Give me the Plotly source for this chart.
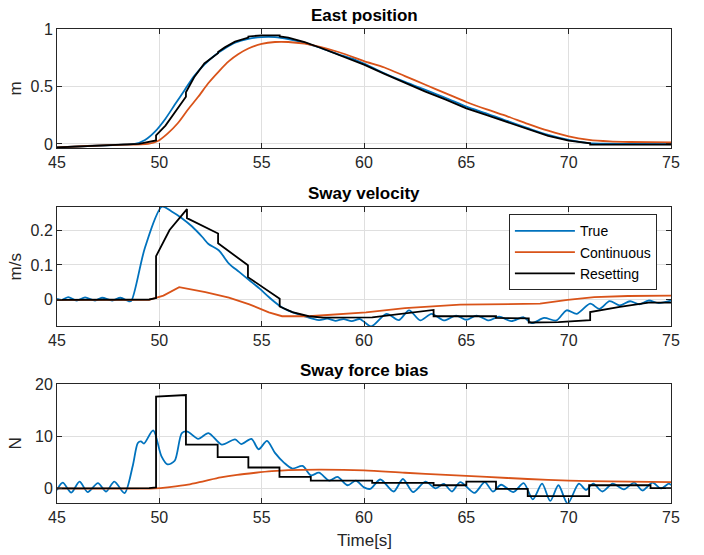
import plotly.graph_objects as go

# ---------------- data ----------------
# East position
pos_true_t = [45, 46.5, 48, 48.8, 49.3, 49.8, 50.3, 50.75, 51.24, 51.7, 52.2, 52.7, 53.2, 53.7, 54.35, 55.0, 55.65,
              56.3, 57.1, 57.9, 58.75, 59.6, 60, 61, 62, 63, 64, 65, 66, 67, 68, 69, 70, 71, 72, 73, 75]
pos_true = [-0.03, -0.018, -0.008, 0.0, 0.035, 0.11, 0.22, 0.34, 0.47, 0.59, 0.69, 0.77, 0.83, 0.88, 0.915, 0.93, 0.93,
            0.913, 0.88, 0.834, 0.78, 0.73, 0.70, 0.615, 0.54, 0.47, 0.40, 0.325, 0.265, 0.20, 0.137, 0.078, 0.035,
            0.008, 0.002, 0.0, 0.0]

pos_cont_t = [45, 46.5, 48, 49.45, 49.93, 50.4, 50.9, 51.4, 51.9, 52.4, 52.9, 53.4, 53.85, 54.35, 55.0, 55.65, 56.3,
              57.1, 57.9, 58.75, 59.6, 60, 61, 62, 63, 64, 65, 66, 67, 68, 69, 70, 71, 72, 73, 75]
pos_cont = [-0.03, -0.018, -0.008, 0.0, 0.026, 0.09, 0.18, 0.30, 0.41, 0.53, 0.63, 0.72, 0.78, 0.83, 0.87, 0.887, 0.887,
            0.872, 0.843, 0.80, 0.747, 0.72, 0.665, 0.59, 0.515, 0.44, 0.365, 0.30, 0.24, 0.175, 0.115, 0.065, 0.035,
            0.022, 0.017, 0.013]

pos_reset_t = [45, 46.5, 48, 49, 49.84, 49.84, 50.3, 50.75, 51.3, 51.3, 51.7, 52.2, 52.87, 52.87, 53.2, 53.7, 54.35,
               54.35, 55.0, 55.88, 55.88, 56.3, 57.1, 57.9, 58.75, 59.6, 60, 61, 62, 63, 64, 65, 66, 67, 68, 69, 70,
               71.05, 71.05, 72, 75]
pos_reset = [-0.03, -0.018, -0.008, 0.0, 0.03, 0.075, 0.16, 0.27, 0.41, 0.45, 0.58, 0.70, 0.79, 0.80, 0.84, 0.89,
             0.925, 0.935, 0.945, 0.945, 0.935, 0.925, 0.885, 0.835, 0.775, 0.72, 0.69, 0.61, 0.53, 0.455, 0.385,
             0.31, 0.25, 0.19, 0.13, 0.07, 0.028, 0.005, -0.005, -0.005, -0.005]

# Sway velocity
vel_true_t = [45, 45.25, 45.55, 45.96, 46.37, 46.86, 47.2, 47.7, 48.1, 48.5, 48.63, 49.3, 50.13, 50.6, 51.1, 51.6,
              52.1, 52.4, 52.9, 53.4, 53.9, 54.4, 54.9, 55.35, 55.85, 56.3, 57.0, 57.8, 58.2, 58.6, 59.0, 59.4, 59.8,
              60.35, 61.1, 61.7, 62.2, 62.75, 63.3, 63.9, 64.5, 65.0, 65.5, 66.1, 66.6, 67.2, 67.8, 68.2, 68.8, 69.4,
              69.9, 70.4, 71.05, 71.5, 72.0, 72.5, 73.0, 73.45, 73.9, 74.4, 75]
vel_true = [0.003, 0.0, 0.008, -0.002, 0.007, -0.002, 0.006, -0.002, 0.006, -0.004, -0.003, 0.15, 0.267, 0.253, 0.234,
            0.21, 0.18, 0.16, 0.142, 0.104, 0.08, 0.056, 0.032, 0.008, -0.016, -0.031, -0.045, -0.058, -0.054, -0.06,
            -0.055, -0.061, -0.055, -0.076, -0.04, -0.058, -0.03, -0.059, -0.04, -0.059, -0.045, -0.057, -0.045,
            -0.059, -0.048, -0.061, -0.05, -0.067, -0.052, -0.059, -0.03, -0.04, -0.011, -0.026, -0.004, -0.016,
            -0.004, -0.013, -0.002, -0.009, -0.002]

vel_cont_t = [45, 49.5, 50.2, 50.97, 52.25, 53.4, 54.4, 55.35, 56.0, 56.65, 57.3, 60.1, 62, 64.7, 68.6, 69.95, 71.25,
              72.9, 75]
vel_cont = [0.0, 0.0, 0.012, 0.0365, 0.022, 0.006, -0.013, -0.036, -0.047, -0.048, -0.047, -0.036, -0.024, -0.014,
            -0.011, 0.0, 0.008, 0.011, 0.012]

vel_reset_t = [45, 49.5, 49.84, 49.84, 50.5, 51.35, 51.35, 52.87, 52.87, 54.33, 54.33, 55.88, 55.88, 56.5, 57.3, 58,
               60.4, 63.4, 63.4, 66.45, 66.45, 68.05, 68.05, 69.5, 71.05, 71.05, 72.5, 73.9, 75]
vel_reset = [0.0, 0.001, 0.005, 0.125, 0.2, 0.26, 0.234, 0.19, 0.162, 0.099, 0.065, 0.003, -0.019, -0.035, -0.047,
             -0.051, -0.05, -0.029, -0.047, -0.047, -0.052, -0.053, -0.065, -0.064, -0.058, -0.035, -0.02, -0.008,
             -0.008]

# Sway force bias
f_true_t = [45, 45.28, 45.7, 46.1, 46.5, 47.0, 47.4, 47.8, 48.3, 48.7, 48.95, 49.1, 49.25, 49.7, 50.1, 50.4, 50.75,
            51.1, 51.37, 51.9, 52.4, 53.05, 53.7, 54.0, 54.5, 54.85, 55.26, 55.65, 56.1, 56.5, 57.0, 57.4, 57.8, 58.3,
            58.7, 59.2, 59.6, 60.0, 60.3, 60.8, 61.45, 61.9, 62.4, 63.0, 63.5, 63.9, 64.3, 64.7, 65.4, 65.9, 66.3,
            66.7, 67.3, 67.8, 68.25, 68.7, 69.1, 69.5, 69.95, 70.5, 70.85, 71.2, 71.65, 72.15, 72.7, 73.2, 73.6,
            74.1, 74.5, 74.9, 75]
f_true = [-0.3, 1.1, -0.8, 1.3, -0.7, 1.0, -0.6, 1.3, -0.9, 4.3, 8.7, 9.0, 8.6, 11.1, 6.2, 4.6, 5.3, 10.6, 10.9,
          9.5, 10.6, 8.4, 9.4, 8.5, 9.5, 7.5, 9.1, 6.8, 4.9, 3.8, 4.3, 2.5, 3.0, 1.5, 2.2, 0.6, 1.5, 0.2, -0.1, 1.7,
          -0.6, 1.8, -0.7, 1.3, 0.0, 0.85, -0.6, 1.2, -0.85, 1.2, -0.6, 0.7, -0.7, 1.0, -2.1, 0.9, -2.4, 0.6, -2.9,
          0.9, -0.3, 0.9, -0.6, 0.9, -0.2, 1.1, -0.4, 1.1, 0.0, 0.9, 0.6]

f_cont_t = [45, 49.8, 50.5, 51.4, 52.2, 53.0, 53.8, 54.7, 55.5, 56.3, 57.9, 60, 62, 64, 66, 68, 70, 72, 75]
f_cont = [0.0, 0.0, 0.25, 0.7, 1.4, 2.1, 2.6, 3.0, 3.3, 3.5, 3.6, 3.45, 3.0, 2.6, 2.2, 1.8, 1.5, 1.35, 1.2]

f_reset_t = [45, 49.5, 49.84, 49.84, 51.3, 51.3, 52.85, 52.85, 54.35, 54.35, 55.87, 55.87, 57.4, 57.4, 60.4, 60.4,
             63.4, 63.4, 65.0, 65.0, 66.45, 66.45, 68.0, 68.0, 71.0, 71.0, 74.0, 74.0, 75]
f_reset = [0.0, 0.05, 0.2, 17.6, 17.9, 8.4, 8.4, 6.0, 6.0, 4.0, 4.0, 2.2, 2.2, 1.5, 1.5, 1.05, 1.05, 0.6, 0.6, 1.3,
           1.3, -0.1, -0.1, -1.5, -1.5, 0.6, 0.6, 0.05, 0.05]

series_names = ["True", "Continuous", "Resetting"]
colors = ["#0072BD", "#D95319", "#000000"]
x_ticks = [45, 50, 55, 60, 65, 70, 75]
titles = ["East position", "Sway velocity", "Sway force bias"]
y_labels = ["m", "m/s", "N"]
y_ticks = [[0, 0.5, 1], [0, 0.1, 0.2], [0, 10, 20]]
y_tick_text = [["0", "0.5", "1"], ["0", "0.1", "0.2"], ["0", "10", "20"]]
y_ranges = [[-0.035, 1.0], [-0.075, 0.266], [-2.8, 20]]

# ---------------- figure ----------------
FONT = "Liberation Sans, Arial, sans-serif"
TXT = "#262626"
fig = go.Figure()

panels = [
    [(pos_true_t, pos_true, "spline"), (pos_cont_t, pos_cont, "spline"), (pos_reset_t, pos_reset, "linear")],
    [(vel_true_t, vel_true, "spline"), (vel_cont_t, vel_cont, "linear"), (vel_reset_t, vel_reset, "linear")],
    [(f_true_t, f_true, "spline"), (f_cont_t, f_cont, "spline"), (f_reset_t, f_reset, "linear")],
]
for p, traces in enumerate(panels):
    ax = "" if p == 0 else str(p + 1)
    for k, (xs, ys, shp) in enumerate(traces):
        fig.add_trace(go.Scatter(
            x=xs, y=ys, mode="lines", name=series_names[k],
            line=dict(color=colors[k], width=1.8, shape=shp, smoothing=0.8 if shp == "spline" else None),
            showlegend=(p == 1), xaxis="x" + ax, yaxis="y" + ax, hoverinfo="skip"))

domains = [[0.749, 1.0], [0.3734, 0.6245], [0.0, 0.251]]
layout = dict(
    width=704, height=555,
    margin=dict(l=57, r=33, t=29, b=52),
    paper_bgcolor="white", plot_bgcolor="white",
    font=dict(family=FONT, size=16, color=TXT),
    legend=dict(x=0.736, y=0.609, xref="paper", yref="paper", xanchor="left", yanchor="top",
                bgcolor="white", bordercolor="#262626", borderwidth=1,
                font=dict(family=FONT, size=14, color="black"), itemwidth=60, tracegroupgap=0),
    annotations=[],
)
for p in range(3):
    ax = "" if p == 0 else str(p + 1)
    layout["xaxis" + ax] = dict(
        domain=[0, 1], anchor="y" + ax, range=[45, 75], tickvals=x_ticks,
        showgrid=True, gridcolor="#dfdfdf", gridwidth=1, zeroline=False,
        showline=True, linecolor=TXT, linewidth=1, mirror="ticks",
        ticks="inside", ticklen=5, tickcolor=TXT, tickfont=dict(size=16, color=TXT, family=FONT))
    layout["yaxis" + ax] = dict(
        domain=domains[p], anchor="x" + ax, range=y_ranges[p], tickvals=y_ticks[p], ticktext=y_tick_text[p],
        showgrid=True, gridcolor="#dfdfdf", gridwidth=1, zeroline=False,
        showline=True, linecolor=TXT, linewidth=1, mirror="ticks",
        ticks="inside", ticklen=5, tickcolor=TXT, tickfont=dict(size=16, color=TXT, family=FONT))
    layout["annotations"].append(dict(
        text="<b>" + titles[p] + "</b>", xref="paper", yref="paper", x=0.5, y=domains[p][1],
        xanchor="center", yanchor="bottom", yshift=2, showarrow=False,
        font=dict(size=17, color="black", family=FONT)))
    layout["annotations"].append(dict(
        text=y_labels[p], xref="paper", yref="paper", x=-0.0668, y=(domains[p][0] + domains[p][1]) / 2,
        xanchor="center", yanchor="middle", textangle=-90, showarrow=False,
        font=dict(size=17, color=TXT, family=FONT)))
layout["annotations"].append(dict(
    text="Time[s]", xref="paper", yref="paper", x=0.5, y=-0.080, xanchor="center", yanchor="middle",
    showarrow=False, font=dict(size=17, color=TXT, family=FONT)))

fig.update_layout(**layout)
fig.write_html("out.html")
